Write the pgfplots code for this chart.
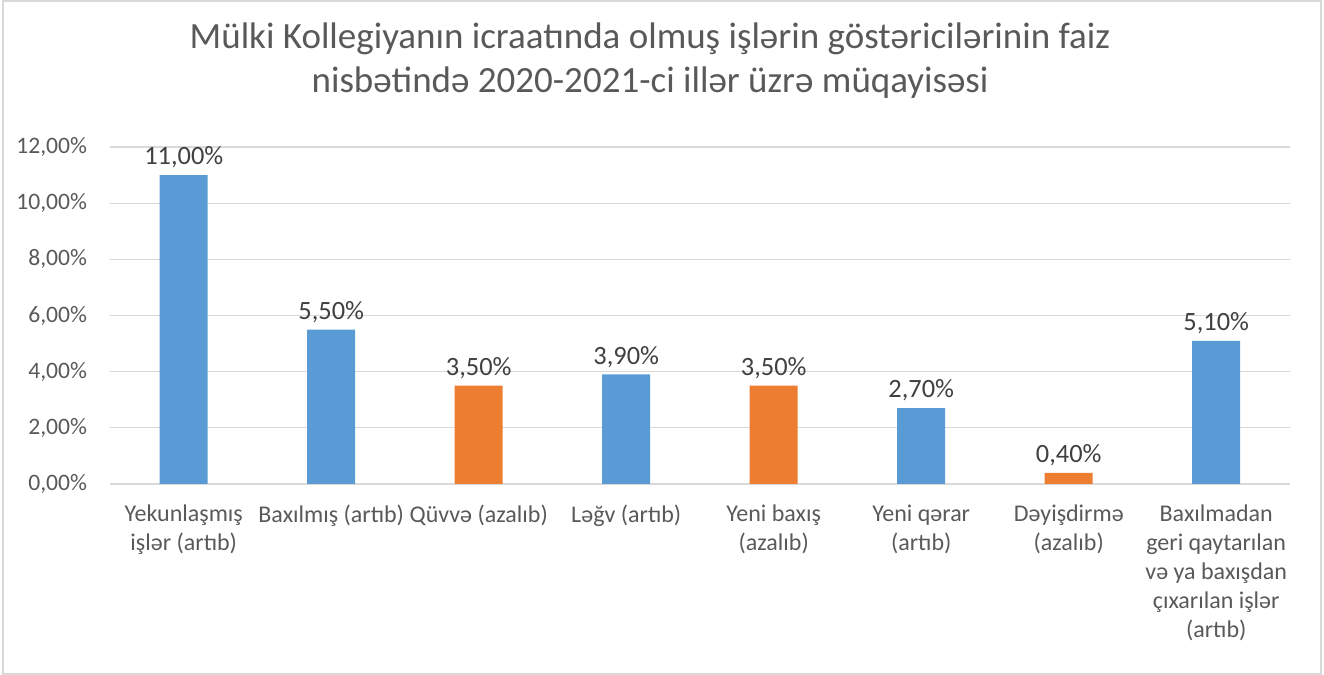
\documentclass[border=0pt]{standalone}
\usepackage{fontspec}
\setmainfont{Carlito}
\usepackage{pgfplots}
\pgfplotsset{compat=1.18}
\definecolor{barblue}{HTML}{5B9BD5}
\definecolor{barorange}{HTML}{ED7D31}
\definecolor{gridgray}{HTML}{D9D9D9}
\definecolor{txtgray}{HTML}{595959}
\definecolor{lbl}{HTML}{404040}

\begin{document}
\begin{tikzpicture}
% whole chart frame, 1px = 0.5pt
\path[use as bounding box] (0,0) rectangle (662pt,337.5pt);
\draw[gridgray, line width=0.8pt] (1.5pt,0.5pt) rectangle (660.5pt,337pt);
\node[anchor=north, align=center, text=txtgray, font=\fontsize{18.5pt}{22pt}\selectfont]
  at (325pt,329.5pt) {Mülki Kollegiyanın icraatında olmuş işlərin göstəricilərinin faiz\\nisbətində 2020-2021-ci illər üzrə müqayisəsi};
\begin{axis}[
  at={(55pt,95.5pt)}, anchor=south west,
  scale only axis, width=590pt, height=168.5pt,
  xmin=-0.5, xmax=7.5, ymin=0, ymax=12,
  axis line style={draw=none},
  axis x line*=bottom,
  ytick={0,2,...,12},
  ymajorgrids, grid style={gridgray, line width=0.6pt},
  major tick length=0pt,
  /pgf/number format/assume math mode=true,
  yticklabel={\pgfmathprintnumber[fixed,fixed zerofill,precision=2,use comma]{\tick}\%},
  yticklabel style={text=txtgray, font=\fontsize{11.8pt}{13pt}\selectfont, xshift=-8pt},
  xtick={0,...,7},
  xticklabels={{Yekunlaşmış\\işlər (artıb)},{Baxılmış (artıb)},{Qüvvə (azalıb)},{Ləğv (artıb)},{Yeni baxış\\(azalıb)},{Yeni qərar\\(artıb)},{Dəyişdirmə\\(azalıb)},{Baxılmadan\\geri qaytarılan\\və ya baxışdan\\çıxarılan işlər\\(artıb)}},
  xticklabel style={text=txtgray, align=center, anchor=north, yshift=-7pt,
    font=\fontsize{12pt}{14.5pt}\selectfont},
  ybar, bar width=24pt, bar shift=0pt,
  nodes near coords={\pgfmathprintnumber[fixed,fixed zerofill,precision=2,use comma]{\pgfplotspointmeta}\%},
  every node near coord/.append style={text=lbl, font=\fontsize{13.2pt}{15pt}\selectfont, yshift=0pt},
  clip=false,
]
\draw[gridgray, line width=0.6pt] (axis cs:-0.5,0) -- (axis cs:7.5,0);
\addplot[fill=barblue, draw=none] coordinates {(0,11.0)(1,5.5)(3,3.9)(5,2.7)(7,5.1)};
\addplot[fill=barorange, draw=none] coordinates {(2,3.5)(4,3.5)(6,0.4)};
\end{axis}
\end{tikzpicture}
\end{document}
